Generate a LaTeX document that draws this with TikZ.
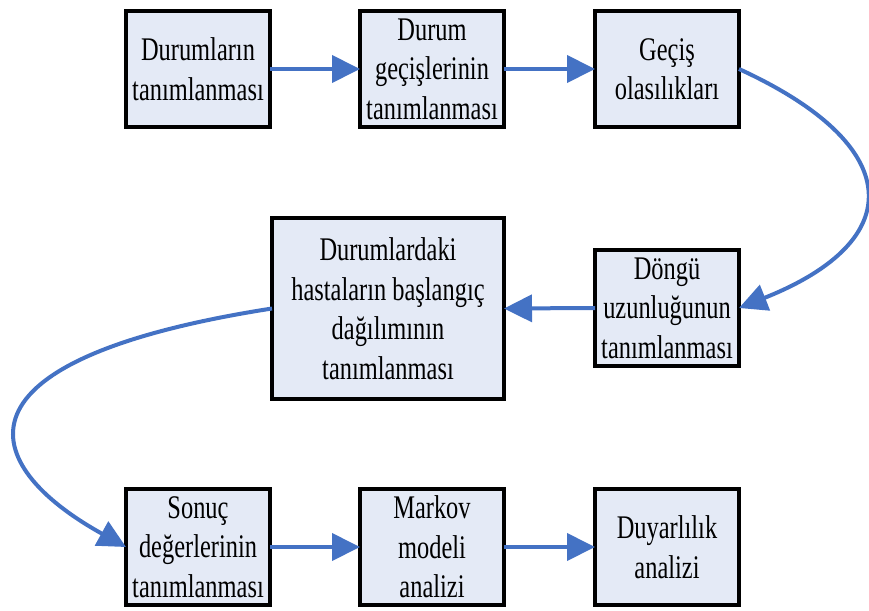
\documentclass[tikz,border=0pt]{standalone}
\usepackage{fontspec}
\setmainfont{Liberation Serif}[FakeStretch=0.74]
\usetikzlibrary{arrows.meta}
\definecolor{boxfill}{HTML}{E4EAF6}
\definecolor{arrowblue}{HTML}{4472C4}
\begin{document}
\begin{tikzpicture}[x=1pt,y=-1pt,
  box/.style={draw=black, line width=4pt, fill=boxfill, minimum width=144pt, minimum height=116pt,
    align=center, inner sep=0pt, outer sep=0pt, font=\fontsize{33}{39.5}\selectfont},
  flow/.style={draw=arrowblue, line width=4pt, -{Triangle[length=28pt,width=27pt]}}]
\useasboundingbox (0,0) rectangle (869,610);
\node[box] (b1) at (198,69) {Durumların\\tanımlanması};
\node[box] (b2) at (432,69) {Durum\\geçişlerinin\\tanımlanması};
\node[box] (b3) at (667,69) {Geçiş\\olasılıkları};
\node[box] (b4) at (667,308) {Döngü\\uzunluğunun\\tanımlanması};
\node[box, minimum width=232pt, minimum height=181pt] (b5) at (388,308.5) {Durumlardaki\\hastaların başlangıç\\dağılımının\\tanımlanması};
\node[box] (b6) at (198,547) {Sonuç\\değerlerinin\\tanımlanması};
\node[box] (b7) at (432,547) {Markov\\modeli\\analizi};
\node[box] (b8) at (667,547) {Duyarlılık\\analizi};
\draw[flow] (b1.east) -- (b2.west);
\draw[flow] (b2.east) -- (b3.west);
\draw[flow] (b3.east) .. controls (905,145) and (910,240) .. (b4.east);
\draw[flow] (b4.west) -- (b5.east);
\draw[flow] (b5.west) .. controls (-58,360) and (-22,465) .. (b6.west);
\draw[flow] (b6.east) -- (b7.west);
\draw[flow] (b7.east) -- (b8.west);
\end{tikzpicture}
\end{document}
